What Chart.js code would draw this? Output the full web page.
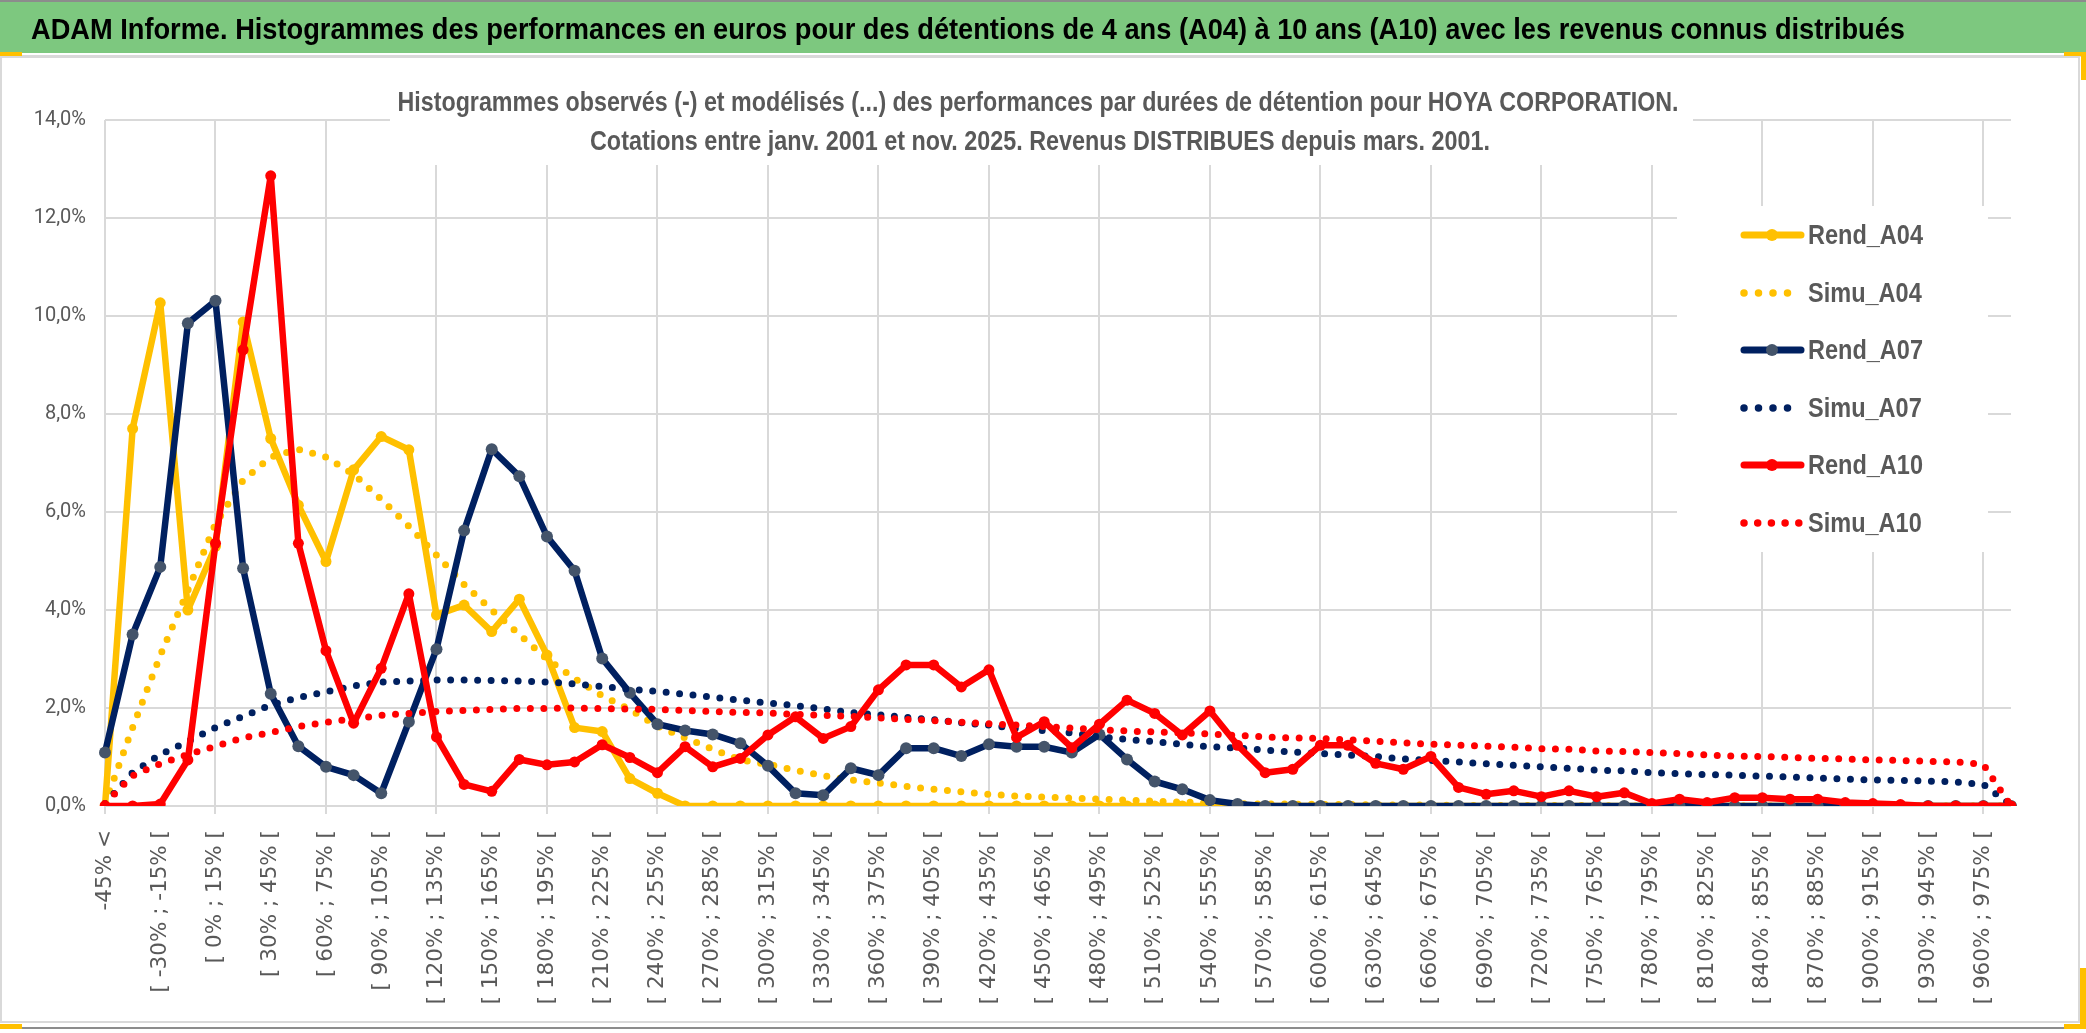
<!DOCTYPE html>
<html>
<head>
<meta charset="utf-8">
<script src="https://cdn.jsdelivr.net/npm/chart.js@4.4.1/dist/chart.umd.min.js"></script>
<style>
  html, body { margin: 0; padding: 0; background: #fff; overflow: hidden; }
  #wrap { width: 2086px; height: 1033px; }
</style>
</head>
<body>
<div id="wrap"><canvas id="chart" width="2086" height="1033"></canvas></div>
<script>
// Categories (performance bins, 15% wide)
const categories = [
  "-45% <",
  "[ -45% ; -30% [", "[ -30% ; -15% [", "[ -15% ; 0% [", "[ 0% ; 15% [", "[ 15% ; 30% [",
  "[ 30% ; 45% [", "[ 45% ; 60% [", "[ 60% ; 75% [", "[ 75% ; 90% [", "[ 90% ; 105% [",
  "[ 105% ; 120% [", "[ 120% ; 135% [", "[ 135% ; 150% [", "[ 150% ; 165% [", "[ 165% ; 180% [",
  "[ 180% ; 195% [", "[ 195% ; 210% [", "[ 210% ; 225% [", "[ 225% ; 240% [", "[ 240% ; 255% [",
  "[ 255% ; 270% [", "[ 270% ; 285% [", "[ 285% ; 300% [", "[ 300% ; 315% [", "[ 315% ; 330% [",
  "[ 330% ; 345% [", "[ 345% ; 360% [", "[ 360% ; 375% [", "[ 375% ; 390% [", "[ 390% ; 405% [",
  "[ 405% ; 420% [", "[ 420% ; 435% [", "[ 435% ; 450% [", "[ 450% ; 465% [", "[ 465% ; 480% [",
  "[ 480% ; 495% [", "[ 495% ; 510% [", "[ 510% ; 525% [", "[ 525% ; 540% [", "[ 540% ; 555% [",
  "[ 555% ; 570% [", "[ 570% ; 585% [", "[ 585% ; 600% [", "[ 600% ; 615% [", "[ 615% ; 630% [",
  "[ 630% ; 645% [", "[ 645% ; 660% [", "[ 660% ; 675% [", "[ 675% ; 690% [", "[ 690% ; 705% [",
  "[ 705% ; 720% [", "[ 720% ; 735% [", "[ 735% ; 750% [", "[ 750% ; 765% [", "[ 765% ; 780% [",
  "[ 780% ; 795% [", "[ 795% ; 810% [", "[ 810% ; 825% [", "[ 825% ; 840% [", "[ 840% ; 855% [",
  "[ 855% ; 870% [", "[ 870% ; 885% [", "[ 885% ; 900% [", "[ 900% ; 915% [", "[ 915% ; 930% [",
  "[ 930% ; 945% [", "[ 945% ; 960% [", "[ 960% ; 975% [", "[ 975% ; 990% ["
];

// Observed and modelled frequencies, in %
const rendA04 = [0, 7.7, 10.27, 4.0, 5.3, 9.88, 7.5, 6.14, 4.99, 6.86,
  7.54, 7.27, 3.9, 4.1, 3.56, 4.22, 3.08, 1.6, 1.52, 0.56,
  0.26, 0, 0, 0, 0, 0, 0, 0, 0, 0,
  0, 0, 0, 0, 0, 0, 0, 0, 0, 0,
  0, 0, 0, 0, 0, 0, 0, 0, 0, 0,
  0, 0, 0, 0, 0, 0, 0, 0, 0, 0,
  0, 0, 0, 0, 0, 0, 0, 0, 0, 0];
const simuA04 = [0.05, 1.6, 3.07, 4.4, 5.76, 6.65, 7.12, 7.28, 7.12, 6.77,
  6.26, 5.71, 5.12, 4.52, 4.0, 3.5, 3.0, 2.6, 2.25, 1.97,
  1.63, 1.39, 1.16, 0.94, 0.85, 0.73, 0.62, 0.53, 0.47, 0.40,
  0.34, 0.29, 0.24, 0.2, 0.18, 0.16, 0.14, 0.12, 0.10, 0.08,
  0.06, 0.05, 0.04, 0.04, 0.03, 0.03, 0.02, 0.02, 0.02, 0.01,
  0.01, 0.01, 0.01, 0.01, 0.01, 0, 0, 0, 0, 0,
  0, 0, 0, 0, 0, 0, 0, 0, 0, 0];
const rendA07 = [1.09, 3.5, 4.88, 9.85, 10.31, 4.85, 2.29, 1.22, 0.8, 0.63,
  0.26, 1.72, 3.2, 5.62, 7.28, 6.73, 5.5, 4.8, 3.01, 2.31,
  1.67, 1.54, 1.46, 1.28, 0.82, 0.26, 0.22, 0.77, 0.63, 1.18,
  1.18, 1.02, 1.26, 1.21, 1.21, 1.09, 1.46, 0.95, 0.5, 0.34,
  0.12, 0.04, 0, 0, 0, 0, 0, 0, 0, 0,
  0, 0, 0, 0, 0, 0, 0, 0, 0, 0,
  0, 0, 0, 0, 0, 0, 0, 0, 0, 0];
const simuA07 = [0.05, 0.68, 1.05, 1.32, 1.6, 1.83, 2.06, 2.21, 2.33, 2.45,
  2.53, 2.55, 2.57, 2.57, 2.56, 2.55, 2.53, 2.49, 2.44, 2.38,
  2.34, 2.28, 2.22, 2.16, 2.1, 2.05, 1.98, 1.91, 1.86, 1.81,
  1.76, 1.70, 1.65, 1.58, 1.54, 1.49, 1.41, 1.36, 1.31, 1.26,
  1.21, 1.18, 1.14, 1.1, 1.07, 1.04, 1.01, 0.96, 0.93, 0.9,
  0.86, 0.83, 0.8, 0.77, 0.73, 0.72, 0.68, 0.66, 0.64, 0.63,
  0.61, 0.59, 0.57, 0.55, 0.53, 0.52, 0.51, 0.49, 0.44, 0.02];
const rendA10 = [0, 0, 0.04, 0.94, 5.36, 9.31, 12.86, 5.36, 3.17, 1.69,
  2.81, 4.33, 1.41, 0.44, 0.3, 0.95, 0.84, 0.9, 1.25, 0.99,
  0.68, 1.21, 0.8, 0.97, 1.45, 1.82, 1.38, 1.62, 2.37, 2.88,
  2.88, 2.43, 2.78, 1.4, 1.72, 1.19, 1.67, 2.16, 1.89, 1.45,
  1.94, 1.24, 0.68, 0.75, 1.24, 1.24, 0.87, 0.75, 1.01, 0.38,
  0.24, 0.31, 0.19, 0.31, 0.19, 0.27, 0.05, 0.14, 0.07, 0.17,
  0.17, 0.14, 0.14, 0.07, 0.05, 0.03, 0, 0, 0, 0];
const simuA10 = [0.05, 0.62, 0.86, 1.05, 1.22, 1.39, 1.5, 1.62, 1.71, 1.78,
  1.85, 1.89, 1.93, 1.95, 1.97, 1.99, 1.99, 2.0, 1.99, 1.98,
  1.97, 1.95, 1.93, 1.91, 1.9, 1.87, 1.85, 1.83, 1.8, 1.77,
  1.74, 1.71, 1.68, 1.65, 1.62, 1.59, 1.56, 1.53, 1.51, 1.49,
  1.47, 1.44, 1.41, 1.39, 1.38, 1.35, 1.32, 1.29, 1.26, 1.24,
  1.22, 1.2, 1.17, 1.16, 1.12, 1.11, 1.09, 1.07, 1.04, 1.02,
  1.01, 0.99, 0.97, 0.96, 0.94, 0.93, 0.91, 0.9, 0.85, 0];

const yTicks = [0, 2, 4, 6, 8, 10, 12, 14];

const headerText = "ADAM Informe. Histogrammes des performances en euros pour des détentions de 4 ans (A04) à 10 ans (A10) avec les revenus connus distribués";
const subtitleLines = [
  "Histogrammes observés (-) et modélisés (...) des performances par durées de détention pour HOYA CORPORATION.",
  "Cotations entre janv. 2001 et nov. 2025. Revenus DISTRIBUES depuis mars. 2001."
];

const YELLOW = "#FFC000", NAVY = "#002060", RED = "#FF0000", SLATE = "#44546A";
const GREY_TXT = "#595959", GRID = "#d9d9d9";
const sans = '"Liberation Sans", Arial, sans-serif';

function solidLine(label, data, color, pointColor, radius, order) {
  return {
    label: label, data: data, order: order,
    borderColor: color, backgroundColor: pointColor,
    pointBackgroundColor: pointColor, pointBorderColor: pointColor,
    borderWidth: 6.5, pointRadius: radius, pointBorderWidth: 0,
    borderJoinStyle: "round", tension: 0
  };
}
function dottedLine(label, data, color, order) {
  return {
    label: label, data: data, order: order,
    borderColor: color, backgroundColor: color,
    borderWidth: 7, borderDash: [0, 13.5], borderCapStyle: "round",
    pointRadius: 0, tension: 0
  };
}

const datasets = [
  solidLine("Rend_A04", rendA04, YELLOW, YELLOW, 5.5, 6),
  dottedLine("Simu_A04", simuA04, YELLOW, 5),
  solidLine("Rend_A07", rendA07, NAVY, SLATE, 6, 4),
  dottedLine("Simu_A07", simuA07, NAVY, 3),
  solidLine("Rend_A10", rendA10, RED, RED, 5.5, 2),
  dottedLine("Simu_A10", simuA10, RED, 1)
];

// draw text squeezed horizontally to a given width
function fitText(ctx, text, x, y, width, align) {
  const w = ctx.measureText(text).width;
  const sx = width / w;
  ctx.save();
  let left = x;
  if (align === "center") left = x - width / 2;
  ctx.translate(left, y);
  ctx.scale(sx, 1);
  ctx.textAlign = "left";
  ctx.fillText(text, 0, 0);
  ctx.restore();
}

const decor = {
  id: "decor",
  beforeDraw(chart) {
    const ctx = chart.ctx;
    ctx.save();
    ctx.fillStyle = "#fff";
    ctx.fillRect(0, 0, chart.width, chart.height);
    // header band
    ctx.fillStyle = "#8c8c8c";
    ctx.fillRect(0, 0, chart.width, 2);
    ctx.fillStyle = "#7dc87f";
    ctx.fillRect(0, 2, chart.width, 51);
    ctx.fillStyle = GRID;
    ctx.fillRect(0, 55, chart.width, 2);
    // chart border
    ctx.strokeStyle = GRID;
    ctx.lineWidth = 2;
    ctx.strokeRect(1, 57, 2078, 965);
    ctx.fillStyle = "#8c8c8c";
    ctx.fillRect(0, 1027, chart.width, 2);
    // selection handles
    ctx.fillStyle = YELLOW;
    ctx.fillRect(0, 52, 22, 4);
    ctx.fillRect(2064, 52, 22, 4);
    ctx.fillRect(2081, 55, 5, 25);
    ctx.fillRect(0, 1024, 22, 5);
    ctx.fillRect(2064, 1024, 22, 5);
    ctx.fillRect(2080, 968, 6, 58);
    // header text
    ctx.fillStyle = "#000";
    ctx.font = "bold 30px " + sans;
    ctx.textBaseline = "alphabetic";
    fitText(ctx, headerText, 31, 39, 1874, "left");
    ctx.restore();
  },
  beforeDatasetsDraw(chart) {
    const ctx = chart.ctx;
    ctx.save();
    // white boxes of the title and the legend over the grid
    ctx.fillStyle = "#fff";
    ctx.fillRect(390, 60, 1303, 105);
    ctx.fillRect(1677, 206, 311, 346);
    // subtitle
    ctx.fillStyle = GREY_TXT;
    ctx.font = "bold 27px " + sans;
    ctx.textBaseline = "middle";
    fitText(ctx, subtitleLines[0], 1038, 104, 1281, "center");
    fitText(ctx, subtitleLines[1], 1040, 143, 900, "center");
    // legend
    const rows = [235, 293, 350, 408, 465, 523];
    ctx.font = "bold 28px " + sans;
    const sx = 115 / ctx.measureText("Rend_A04").width;
    datasets.forEach((ds, i) => {
      const y = rows[i];
      ctx.save();
      ctx.strokeStyle = ds.borderColor;
      ctx.lineCap = "round";
      if (ds.borderDash) {
        ctx.lineWidth = 7.5;
        ctx.setLineDash([0, i === 5 ? 13.7 : 14.5]);
        ctx.beginPath();
        ctx.moveTo(1744, y);
        ctx.lineTo(i === 5 ? 1800 : 1790, y);
        ctx.stroke();
      } else {
        ctx.lineWidth = 7;
        ctx.beginPath();
        ctx.moveTo(1744, y);
        ctx.lineTo(1801, y);
        ctx.stroke();
        ctx.fillStyle = ds.pointBackgroundColor;
        ctx.beginPath();
        ctx.arc(1772, y, 6, 0, Math.PI * 2);
        ctx.fill();
      }
      ctx.restore();
      ctx.fillStyle = GREY_TXT;
      ctx.textBaseline = "middle";
      ctx.save();
      ctx.translate(1808, y + 1);
      ctx.scale(sx, 1);
      ctx.fillText(ds.label, 0, 0);
      ctx.restore();
    });
    ctx.restore();
  }
};

new Chart(document.getElementById("chart"), {
  type: "line",
  data: { labels: categories, datasets: datasets },
  options: {
    responsive: false,
    animation: false,
    devicePixelRatio: 1,
    layout: { padding: { top: 120, right: 75, left: 0, bottom: 0 } },
    plugins: {
      legend: { display: false },
      title: { display: false },
      tooltip: { enabled: false }
    },
    scales: {
      x: {
        type: "category",
        offset: false,
        border: { display: false },
        grid: {
          offset: false,
          lineWidth: 2,
          tickLength: 8,
          color: c => (c.index % 4 === 0 ? GRID : "rgba(0,0,0,0)")
        },
        ticks: {
          autoSkip: false,
          minRotation: 90,
          maxRotation: 90,
          padding: 16,
          color: GREY_TXT,
          font: { family: "DejaVu Sans", size: 21.5 },
          callback: function (value, index) {
            return index % 2 === 0 ? this.getLabelForValue(value) : "";
          }
        },
        afterFit: s => { s.height = 227; }
      },
      y: {
        min: yTicks[0],
        max: yTicks[yTicks.length - 1],
        border: { display: false },
        grid: { color: GRID, lineWidth: 2, drawTicks: false },
        afterBuildTicks: s => { s.ticks = yTicks.map(v => ({ value: v })); },
        ticks: {
          padding: 19,
          color: GREY_TXT,
          font: { family: "Roboto", size: 20 },
          callback: v => v.toFixed(1).replace(".", ",") + "%"
        },
        afterFit: s => { s.width = 105; }
      }
    }
  },
  plugins: [decor]
});
</script>
</body>
</html>
